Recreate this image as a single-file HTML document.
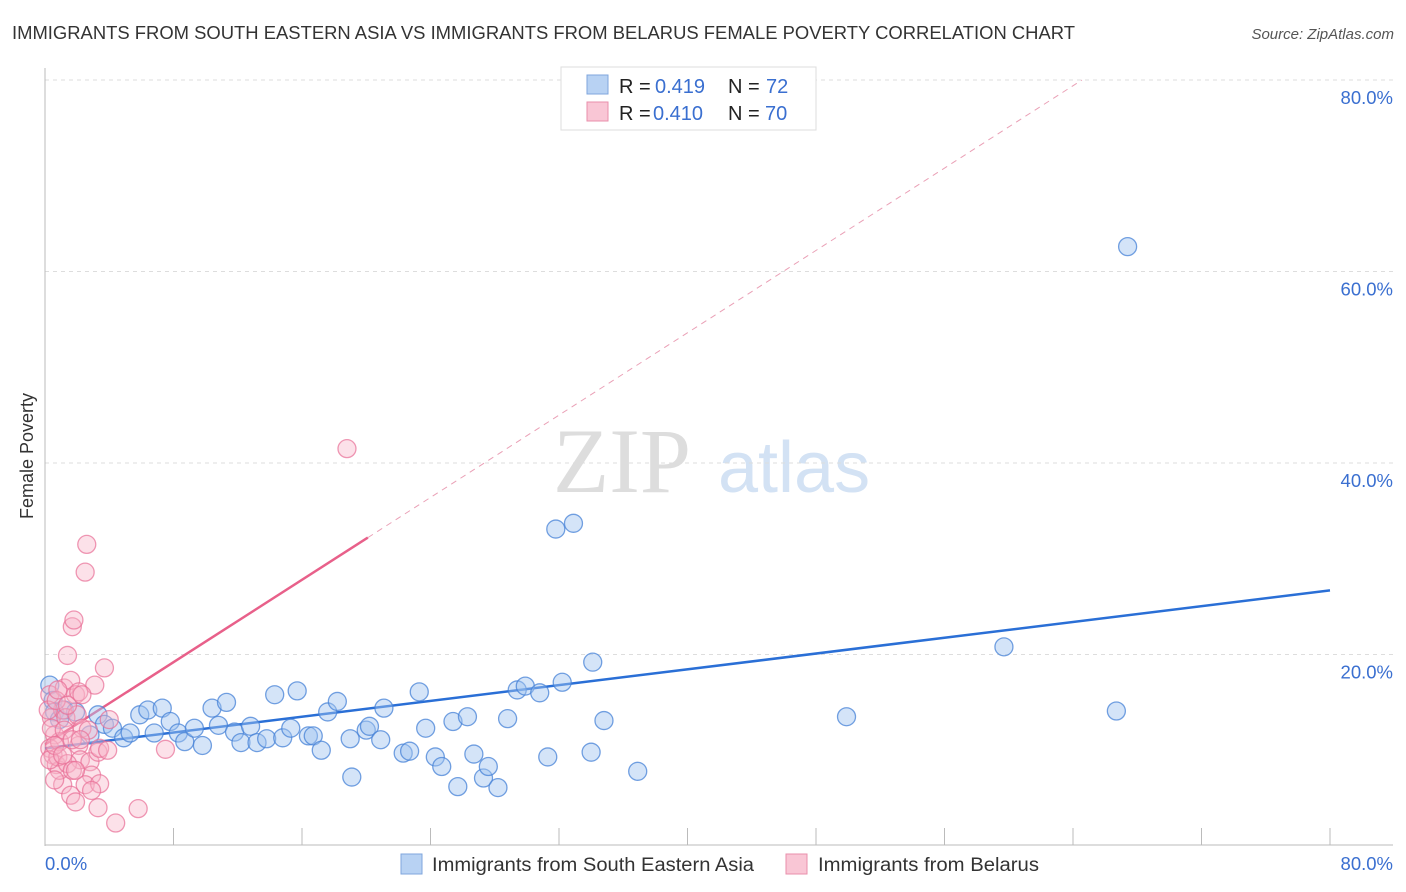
<!DOCTYPE html>
<html><head><meta charset="utf-8"><style>
body{margin:0;background:#fff;font-family:"Liberation Sans",sans-serif;}
#wrap{position:relative;width:1406px;height:892px;overflow:hidden;}
</style></head><body>
<div id="wrap">
<svg id="chart" width="1406" height="892" xmlns="http://www.w3.org/2000/svg">
<text x="12" y="39" font-size="18" fill="#333" textLength="1063" lengthAdjust="spacingAndGlyphs">IMMIGRANTS FROM SOUTH EASTERN ASIA VS IMMIGRANTS FROM BELARUS FEMALE POVERTY CORRELATION CHART</text>
<text x="1394" y="39" font-size="15" fill="#555" font-style="italic" text-anchor="end">Source: ZipAtlas.com</text>
<text x="33" y="456" font-size="18" fill="#333" text-anchor="middle" transform="rotate(-90 33 456)">Female Poverty</text>
<g><text x="553" y="492" font-size="92" fill="#ddd" font-family="Liberation Serif,serif">ZIP</text><text x="718" y="492" font-size="72" fill="#d3e2f4">atlas</text></g>
<g id="grid"></g><g id="axes"></g><g id="lines"></g><g id="pts"></g>
<g>
<rect x="561" y="67" width="255" height="63" fill="#fff" stroke="#ddd"/>
<rect x="587" y="75" width="21" height="19" fill="#b8d2f3" stroke="#7fa6dc"/>
<text x="619" y="93" font-size="20" fill="#222">R =</text>
<text x="655" y="93" font-size="20" fill="#3a6fd0">0.419</text>
<text x="728" y="93" font-size="20" fill="#222">N =</text>
<text x="766" y="93" font-size="20" fill="#3a6fd0">72</text>
<rect x="587" y="102" width="21" height="19" fill="#f9c6d5" stroke="#e98fab"/>
<text x="619" y="120" font-size="20" fill="#222">R =</text>
<text x="653" y="120" font-size="20" fill="#3a6fd0">0.410</text>
<text x="728" y="120" font-size="20" fill="#222">N =</text>
<text x="765" y="120" font-size="20" fill="#3a6fd0">70</text>
</g>
<g>
<rect x="401" y="854" width="21" height="20" fill="#b8d2f3" stroke="#7fa6dc"/>
<text x="432" y="871" font-size="19" fill="#333" textLength="322" lengthAdjust="spacingAndGlyphs">Immigrants from South Eastern Asia</text>
<rect x="786" y="854" width="21" height="20" fill="#f9c6d5" stroke="#e98fab"/>
<text x="818" y="871" font-size="19" fill="#333" textLength="221" lengthAdjust="spacingAndGlyphs">Immigrants from Belarus</text>
</g>
</svg>
</div>
<script>
const blueX=[0.3,0.5,0.6,0.9,1.2,1.9,2.8,3.3,3.7,4.2,4.9,5.3,5.9,6.4,6.8,7.3,7.8,8.3,8.7,9.3,9.8,10.4,10.8,11.3,11.8,12.2,12.8,13.2,13.8,14.3,14.8,15.3,15.7,16.4,16.7,17.2,17.6,18.2,19.0,19.1,20.0,20.2,20.9,21.1,22.3,22.7,23.3,23.7,24.3,24.7,25.4,25.7,26.3,26.7,27.3,27.6,28.2,28.8,29.4,29.9,30.8,31.3,31.8,32.2,32.9,34.0,34.1,34.8,36.9,49.9,59.7,66.7,67.4];
const blueY=[16.8,15.2,14.0,13.2,14.2,14.0,11.6,13.7,12.7,12.3,11.3,11.8,13.7,14.2,11.8,14.4,13.0,11.8,10.9,12.3,10.5,14.4,12.6,15.0,11.9,10.8,12.5,10.8,11.2,15.8,11.3,12.3,16.2,11.5,11.5,10.0,14.0,15.1,11.2,7.2,12.1,12.5,11.1,14.4,9.7,9.9,16.1,12.3,9.3,8.3,13.0,6.2,13.5,9.6,7.1,8.3,6.1,13.3,16.3,16.7,16.0,9.3,33.1,17.1,33.7,9.8,19.2,13.1,7.8,13.5,20.8,14.1,62.6];
const pinkX=[0.3,0.4,0.6,0.3,0.5,0.7,0.9,1.1,1.2,1.3,1.4,1.6,1.7,1.8,1.9,2.0,2.1,2.2,2.3,2.5,2.6,2.8,2.9,3.1,3.3,3.4,3.7,3.9,4.0,1.1,1.6,1.9,2.5,3.3,3.4,4.4,5.8,7.5,18.8,0.2,0.4,0.7,0.9,1.2,0.8,0.3,0.6,1.4,1.7,2.1,1.1,2.7,1.7,2.2,1.4,0.8,2.9,0.6,2.3,1.9];
const pinkY=[15.8,13.4,11.6,10.2,9.5,8.5,10.9,14.2,16.5,13.4,19.9,17.3,22.9,23.6,15.8,13.7,10.5,9.0,12.3,28.6,31.5,8.8,7.4,16.8,9.8,10.2,18.6,10.0,13.2,6.4,5.3,4.6,6.4,4.0,6.5,2.4,3.9,10.1,41.5,14.2,12.3,15.2,7.9,12.1,9.3,9.0,10.5,8.6,7.9,16.1,9.5,12.1,11.1,11.1,14.7,16.3,5.8,6.9,15.8,7.9];
const blueTrend=[10.2,26.7];   // y at x=0, x=80
const pinkTrend=[10.6,1.075];  // intercept, slope
const pinkSolidEnd=20.1;
const yTicks=[20,40,60,80];
const yTickLabels=["20.0%","40.0%","60.0%","80.0%"];
const xTicks=[0,8,16,24,32,40,48,56,64,72,80];

const NS="http://www.w3.org/2000/svg";
const sx=v=>45+v*1285/80, sy=v=>846-v*9.575;
function mk(tag,attrs,parent){const e=document.createElementNS(NS,tag);for(const k in attrs)e.setAttribute(k,attrs[k]);document.getElementById(parent).appendChild(e);return e;}
yTicks.forEach((t,i)=>{
  const g=mk('line',{x1:45,x2:1393,y1:sy(t),y2:sy(t),stroke:'#ddd','stroke-dasharray':'4,4'},'grid');
  
  
  const l=mk('text',{x:1393,y:sy(t)+24,'font-size':18.5,fill:'#3a6fd0','text-anchor':'end'},'axes');
  l.textContent=yTickLabels[i];
  
  
});
let a=mk('line',{x1:45,x2:45,y1:68,y2:846,stroke:'#bbb'},'axes');


a=mk('line',{x1:45,x2:1393,y1:845,y2:845,stroke:'#bbb'},'axes');


xTicks.forEach(t=>{
  const k=mk('line',{x1:sx(t),x2:sx(t),y1:828,y2:845,stroke:'#bbb'},'axes');
  
  
});
let xl=mk('text',{x:45,y:870,'font-size':18.5,fill:'#3a6fd0'},'axes');xl.textContent='0.0%';


xl=mk('text',{x:1393,y:870,'font-size':18.5,fill:'#3a6fd0','text-anchor':'end'},'axes');xl.textContent='80.0%';



blueX.forEach((x,i)=>{
  const c=mk('circle',{cx:sx(x),cy:sy(blueY[i]),r:9,fill:'rgba(160,196,240,0.45)',stroke:'rgba(70,130,215,0.75)','stroke-width':1.3},'pts');
  
  
});
pinkX.forEach((x,i)=>{
  const c=mk('circle',{cx:sx(x),cy:sy(pinkY[i]),r:9,fill:'rgba(248,180,200,0.4)',stroke:'rgba(232,110,150,0.7)','stroke-width':1.3},'pts');
  
  
});
let t=mk('line',{x1:sx(0),y1:sy(blueTrend[0]),x2:sx(80),y2:sy(blueTrend[1]),stroke:'#2a6fd6','stroke-width':2.5},'lines');


t=mk('line',{x1:sx(0),y1:sy(pinkTrend[0]),x2:sx(pinkSolidEnd),y2:sy(pinkTrend[0]+pinkTrend[1]*pinkSolidEnd),stroke:'#e8608a','stroke-width':2.5},'lines');


const xEnd=(80-pinkTrend[0])/pinkTrend[1];
t=mk('line',{x1:sx(pinkSolidEnd),y1:sy(pinkTrend[0]+pinkTrend[1]*pinkSolidEnd),x2:sx(xEnd),y2:sy(80),stroke:'#eaa0b6','stroke-width':1,'stroke-dasharray':'6,5'},'lines');


</script>
</body></html>
